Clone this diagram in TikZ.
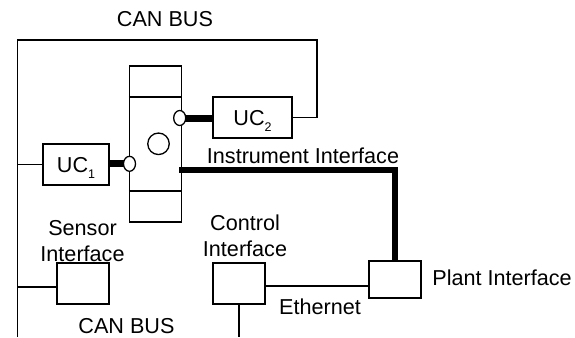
\documentclass[tikz,border=0pt]{standalone}
\usepackage{fontspec}
\setmainfont{Liberation Sans}
\usetikzlibrary{shapes.geometric,backgrounds}
\newcommand{\subdig}[1]{\raisebox{-6pt}{\fontsize{12.5}{12.5}\selectfont #1}}
\begin{document}
\begin{tikzpicture}[x=1pt,y=-1pt,
  thinline/.style={line width=1.3pt},
  box/.style={draw,line width=1.3pt,rectangle,inner sep=0pt,minimum width=52pt,minimum height=41pt},
  uctext/.style={text height=15pt,text depth=0pt},
  port/.style={draw,line width=1.3pt,fill=white,ellipse,inner sep=0pt,minimum width=12pt,minimum height=15pt},
  bar/.style={line width=7pt},
  instline/.style={line width=6pt},
  lbl/.style={inner sep=0pt,anchor=base,align=center}]
\useasboundingbox (0,0) rectangle (575,337);
\fontsize{21.6}{26}\selectfont
% boxes
\node[box,minimum width=52pt,minimum height=156pt] (tall) at (155.5,144) {};
\node[box,uctext,minimum width=79pt] (uc2) at (252.5,117.5) {UC\subdig{2}};
\node[box,uctext,minimum width=66pt] (uc1) at (76,164.5) {UC\subdig{1}};
\node[box] (sensor) at (83,283.5) {};
\node[box] (control) at (239,283.5) {};
\node[box,minimum height=37pt] (plant) at (395,279.5) {};
\node[draw,line width=1.3pt,circle,inner sep=0pt,minimum size=21.5pt] (led) at (158.5,143.8) {};
% dividers of the tall box
\coordinate (d1) at (0,97);
\coordinate (d2) at (0,191);
\draw[thinline] (tall.west |- d1) -- (tall.east |- d1);
\draw[thinline] (tall.west |- d2) -- (tall.east |- d2);
% ports
\node[port] (p2) at (179.7,118) {};
\node[port] (p1) at (129.5,163.8) {};
\begin{scope}[on background layer]
\draw[bar] (p2.center) -- (uc2.west |- p2.center);
\draw[bar] (uc1.east |- p1.center) -- (p1.center);
\end{scope}
% CAN bus frame
\coordinate (tl) at (17.5,40);
\coordinate (tr) at (317,40);
\coordinate (bl) at (17.5,337);
\coordinate (sj) at (57,287);
\draw[thinline] (bl) -- (tl) -- (tr) -- (tr |- uc2.east) -- (uc2.east);
\draw[thinline] (tl |- uc1.west) -- (uc1.west);
\draw[thinline] (tl |- sj) -- (sensor.west |- sj);
% ethernet
\coordinate (ej) at (300,286);
\draw[thinline] (control.east |- ej) -- (plant.west |- ej);
\draw[thinline] (control.south) -- (control.south |- bl);
% instrument interface
\coordinate (ii) at (179,169.7);
\draw[instline] (ii) -- (ii -| plant.north) -- (plant.north);
% labels
\node[lbl] (t1) at (165,26.5) {CAN BUS};
\node[lbl] (t2) at (126.5,333) {CAN BUS};
\node[lbl] (t3) at (303,163.5) {Instrument Interface};
\node[lbl,anchor=south] (t4) at (82.5,262) {Sensor\\Interface};
\node[lbl,anchor=south] (t5) at (245,257) {Control\\Interface};
\node[lbl] (t6) at (320,314) {Ethernet};
\node[lbl] (t7) at (502,285) {Plant Interface};
\end{tikzpicture}
\end{document}
